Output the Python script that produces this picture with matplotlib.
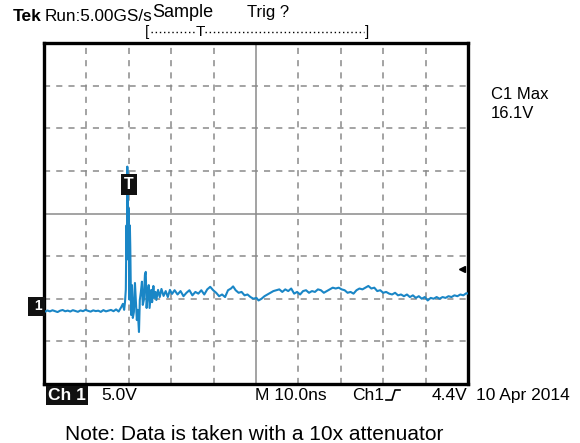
import matplotlib.pyplot as plt
from matplotlib.lines import Line2D
import numpy as np

plt.rcParams["font.family"] = ["Liberation Sans", "DejaVu Sans"]

# Trace: time in ns (trigger at 0), voltage in V
t_ns = [
    -19.8, -19.2, -18.6, -18.0, -17.4, -16.8, -16.2, -15.6, -15.0, -14.4,
    -13.8, -13.2, -12.6, -12.0, -11.4, -10.8, -10.2, -9.6, -9.0, -8.4,
    -7.8, -7.2, -6.6, -6.0, -5.4, -4.8, -4.2, -3.6, -3.0, -2.4, -1.8,
    -1.4, -1.1, -0.9, -0.7, -0.55, -0.45, -0.35, -0.25, -0.15, -0.05, 0.05,
    0.15, 0.25, 0.35, 0.45,
    0.55, 0.75, 0.95, 1.2, 1.45, 1.65, 1.9, 2.1, 2.4, 2.6, 2.85, 3.1,
    3.3, 3.55, 3.8, 4.0, 4.2, 4.45, 4.7, 4.9, 5.3, 5.5, 5.8, 6.0, 6.3,
    6.5, 6.9, 7.3, 7.7, 8.2, 8.7, 9.2, 9.7, 10.2,
    10.8, 11.5, 12.2, 12.9, 13.6, 14.3, 15.0, 15.7, 16.4, 17.1, 17.8,
    18.5, 19.2, 19.9, 20.6, 21.3, 22.0, 22.7, 23.4, 24.1, 24.6, 25.2,
    25.9, 26.6, 27.3, 28.0, 28.7, 29.4, 30.1, 30.6, 31.3, 32.0, 32.7,
    33.4, 34.1, 34.8, 35.5, 36.2, 36.9, 37.6, 38.3, 39.0, 39.7, 40.4,
    41.1, 41.8, 42.5, 43.2, 43.9, 44.6, 45.3, 46.0, 46.7, 47.4, 48.1,
    48.8, 49.5, 50.2, 50.9, 51.6, 52.3, 53.0, 53.7, 54.4, 55.1, 55.8,
    56.5, 57.2, 57.9, 58.6, 59.3, 60.0, 60.7, 61.4, 62.1, 62.8, 63.5,
    64.2, 64.9, 65.6, 66.3, 67.0, 67.7, 68.4, 69.1, 69.8, 70.5, 71.2,
    71.9, 72.6, 73.3, 74.0, 74.7, 75.4, 76.1, 76.8, 77.5, 78.2, 78.9,
    79.6, 80.0,
]
volts = [
    -0.62, -0.48, -0.58, -0.45, -0.55, -0.66, -0.50, -0.42, -0.57, -0.49,
    -0.60, -0.44, -0.53, -0.63, -0.47, -0.56, -0.40, -0.52, -0.61, -0.46,
    -0.55, -0.50, -0.64, -0.43, -0.58, -0.49, -0.41, -0.56, -0.35, -0.60, -0.10,
    0.3, -0.4, 0.5, 2.0, 9.5, 5.5, 16.4, 12.5, 6.0, 11.5, 5.5,
    0.8, 9.5, 7.0, 3.3,
    -1.0, 2.5, -1.35, -0.65, 2.75, 0.76, -1.6, -0.4, -3.0, 0.76, 1.7, 2.9,
    0.18, 0.76, 3.7, 4.05, -0.18, 1.47, 2.5, -0.18, 1.94, 0.5, 2.4, 1.0, 1.7,
    0.76, 1.94, 1.1, 2.05, 1.23, 1.8, 1.1, 1.94, 1.47,
    1.9, 1.4, 1.8, 1.2, 1.6, 1.9, 1.3, 1.7, 1.5, 1.9, 1.4,
    2.0, 2.3, 1.9, 1.6, 1.2, 1.4, 1.1, 1.9, 2.1, 2.35, 1.9,
    1.6, 1.7, 1.3, 1.4, 1.1, 0.9, 1.0, 0.7, 0.9, 1.2, 1.4,
    1.6, 1.8, 1.9, 2.0, 1.7, 2.0, 1.8, 2.1, 1.5, 1.7, 1.4,
    1.8, 1.9, 1.6, 1.8, 1.7, 2.0, 1.9, 1.6, 1.8, 2.0, 2.2,
    2.1, 2.2, 2.0, 1.9, 1.6, 1.7, 1.5, 1.9, 2.1, 2.0, 2.2,
    2.4, 2.1, 2.2, 1.8, 1.9, 1.6, 1.7, 1.5, 1.4, 1.6, 1.3,
    1.4, 1.2, 1.4, 1.1, 1.3, 1.0, 1.2, 0.9, 1.1, 0.7, 1.0,
    0.9, 1.1, 0.9, 1.1, 1.0, 1.2, 1.1, 1.3, 1.2, 1.4, 1.3,
    1.55, 1.5,
]

volts_per_div = 5.0
ns_per_div = 10.0
trig_level = 4.4
ground_div = 1.82  # ground sits 1.82 div above the bottom edge

W, H = 580, 443
fig = plt.figure(figsize=(W / 100, H / 100), dpi=100)


def px(x, y):
    return x / W, 1 - y / H


ax = fig.add_axes([44 / W, 1 - 384 / H, 424 / W, 341 / H])
ylo = -ground_div * volts_per_div
ax.set_xlim(-2 * ns_per_div, 8 * ns_per_div)
ax.set_ylim(ylo, ylo + 8 * volts_per_div)

# graticule
for k in range(1, 10):
    xv = -2 * ns_per_div + k * ns_per_div
    if k == 5:
        ax.axvline(xv, color="#8a8a8a", lw=1.1, zorder=1)
    else:
        ax.axvline(xv, color="#8a8a8a", lw=1.1, ls=(0, (4, 4)), zorder=1)
for k in range(1, 8):
    yv = ylo + k * volts_per_div
    if k == 4:
        ax.axhline(yv, color="#8a8a8a", lw=1.1, zorder=1)
    else:
        ax.axhline(yv, color="#8a8a8a", lw=1.1, ls=(0, (4, 4)), zorder=1)

ax.plot(t_ns, volts, color="#1a86c6", lw=1.5, zorder=3)

# trigger level arrow on the right
ax.plot(78.6, trig_level, marker="<", color="black", ms=4, zorder=4)

ax.set_xticks([])
ax.set_yticks([])
for s in ax.spines.values():
    s.set_linewidth(2.4)
    s.set_color("black")

# ground marker "1"
ax.text(-20.4, 0, " 1", ha="right", va="center", color="white", fontsize=10,
        fontweight="bold", bbox=dict(boxstyle="square,pad=0.2", fc="#111111", ec="none"),
        clip_on=False)
# trigger position marker "T"
ax.text(0, 14.3, "T", ha="center", va="center", color="white", fontsize=11.5,
        fontweight="bold", bbox=dict(boxstyle="square,pad=0.2", fc="#111111", ec="none"),
        zorder=5)

# header
fig.text(*px(13, 21), "Tek", fontsize=12.5, fontweight="bold", va="baseline")
fig.text(*px(45, 21), "Run:5.00GS/s", fontsize=12.3, va="baseline")
fig.text(*px(152, 17), "Sample", fontsize=13, va="baseline")
fig.text(*px(247, 17), "Trig ?", fontsize=12, va="baseline")
fig.text(*px(145, 36), "[", fontsize=11, va="baseline")
fig.text(*px(369, 36), "]", fontsize=11, va="baseline", ha="right")
fig.text(*px(200, 36), "T", fontsize=11, va="baseline", ha="center")
fig.add_artist(Line2D([151 / W, 195 / W], [1 - 32 / H] * 2, transform=fig.transFigure,
                      color="black", lw=1.0, ls=(0, (1, 2))))
fig.add_artist(Line2D([205 / W, 364 / W], [1 - 32 / H] * 2, transform=fig.transFigure,
                      color="black", lw=1.0, ls=(0, (1, 2))))

# measurement readout
fig.text(*px(491, 99), "C1 Max", fontsize=12, va="baseline")
fig.text(*px(491, 118), "16.1V", fontsize=12, va="baseline")

# footer
fig.text(*px(48, 400), "Ch 1", fontsize=12.5, fontweight="bold", color="white", va="baseline",
         bbox=dict(boxstyle="square,pad=0.1", fc="#111111", ec="none"))
fig.text(*px(101, 400), "5.0V", fontsize=12.5, va="baseline")
fig.text(*px(255, 400), "M 10.0ns", fontsize=12.5, va="baseline")
fig.text(*px(352, 400), "Ch1", fontsize=12.5, va="baseline")
fig.add_artist(Line2D([386 / W, 392 / W, 395 / W, 400 / W],
                      [1 - 400 / H, 1 - 400 / H, 1 - 390 / H, 1 - 390 / H],
                      transform=fig.transFigure, color="black", lw=1.2))
fig.text(*px(432, 400), "4.4V", fontsize=12.5, va="baseline")
fig.text(*px(476, 400), "10 Apr 2014", fontsize=12.5, va="baseline")

fig.text(*px(65, 440), "Note: Data is taken with a 10x attenuator", fontsize=15,
         va="baseline")

fig.savefig("out.png", dpi=100)
